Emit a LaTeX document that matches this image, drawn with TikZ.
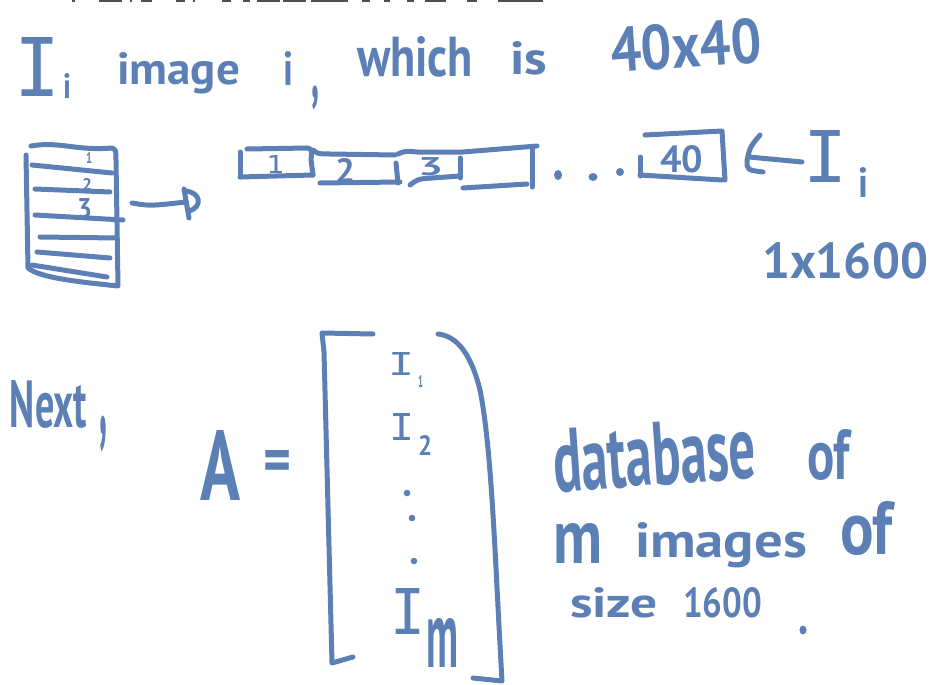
\documentclass[tikz,border=0pt]{standalone}
\usepackage{fontspec}
\usepackage{graphicx}
\usetikzlibrary{fit}
\setmainfont{PT Sans}
\newfontfamily\monof{DejaVu Sans Mono}
\definecolor{hw}{RGB}{92,128,181}
\definecolor{cut}{RGB}{80,80,80}
\newcommand\fitw[3]{\resizebox{#1pt}{#2pt}{#3}}
\begin{document}
\begin{tikzpicture}[x=1pt,y=-1pt,
  ink/.style={draw=hw, line width=5pt, line cap=round, line join=round},
  txt/.style={text=hw, inner sep=0pt, outer sep=0pt, anchor=base west, font=\bfseries},
  bigI/.style={txt, font=\monof\mdseries},
  cutstroke/.style={draw=cut, line width=2.5pt}]
\useasboundingbox (0,0) rectangle (946,685);
% clipped title fragments
\foreach \a/\b in {72/75,99/122,130/132,141/152,176/185,193/195,222/231,243/250,257/280,283/306,311/348,362/370,384/390,407/414,425/446,467/477,498/543}
  \draw[cutstroke] (\a,1) -- (\b,1);
% ---- first line
\node[bigI] (Ibig) at (15,97) {\fitw{46}{59}{I}};
\node[txt] (Isub) at (63,98) {\fitw{8}{25}{i}};
\node[txt] (image) at (117,85) {\fitw{123}{32}{image}};
\node[txt] (iw) at (283,85) {\fitw{10}{34}{i}};
\node[txt, anchor=north west] (comma1) at (311,86) {\resizebox*{8pt}{24pt}{,}};
\node[txt] (which) at (357,77) {\fitw{116}{40}{which}};
\node[txt] (is) at (510,75) {\fitw{37}{33}{is}};
\node[txt, rotate=4] (forty) at (612,73) {\fitw{151}{45}{40x40}};
% ---- grid picture
\draw[ink] (31,146) .. controls (60,141) and (75,151) .. (112,148) .. controls (116,150) .. (116,160) -- (118,286)
  .. controls (80,282) and (40,278) .. (28,268) -- (26,155);
\coordinate (gridR) at (132,203);
\node[inner sep=0pt, fit={(25,145)(118,287)}] (grid) {};
\draw[ink] (32,165) -- (112,173);
\draw[ink] (35,189) -- (110,192);
\draw[ink] (35,215) -- (123,220);
\draw[ink] (40,237) -- (117,238);
\draw[ink] (37,252) -- (110,258);
\draw[ink] (32,265) -- (107,277);
\node[txt] (g1) at (86,163) {\fitw{6}{11}{1}};
\node[txt] (g2) at (82,190) {\fitw{10}{12}{2}};
\node[txt] (g3) at (77,218) {\fitw{15}{20}{3}};
% arrow with D head
\coordinate (Dtip) at (186,202);
\draw[ink] (gridR) .. controls (150,206) .. (Dtip);
\draw[ink] (184,189) -- (189,218);
\draw[ink] (185,191) .. controls (201,192) and (203,207) .. (189,211);
% ---- row of cells
\draw[ink] (240,152) -- (240,177);
\draw[ink] (247,149) -- (308,148) .. controls (312,150) .. (311,160) -- (313,175);
\draw[ink] (240,177) -- (313,175);
\node[bigI] (c1) at (266,173) {\fitw{18}{18}{1}};
\draw[ink] (313,150) .. controls (318,154) .. (330,154) -- (395,155);
\draw[ink] (320,183) -- (400,182);
\draw[ink] (396,163) -- (398,183);
\node[txt] (c2) at (335,182) {\fitw{20}{24}{2}};
\draw[ink] (398,154) .. controls (405,151) .. (417,152) -- (463,152) -- (537,146);
\draw[ink] (410,185) .. controls (418,179) .. (432,178) -- (460,176);
\draw[ink] (460,158) -- (460,178);
\node[txt] (c3) at (418,175) {\fitw{25}{18}{3}};
\draw[ink] (463,188) -- (527,184);
\draw[ink] (532,147) -- (532,187);
\fill[hw] (558,175) ellipse (4 and 5);
\fill[hw] (593,177) ellipse (4.5 and 4);
\fill[hw] (620,172) ellipse (4 and 4);
\draw[ink] (640,157) -- (640,176);
\draw[ink] (645,135) -- (722,131) -- (725,180);
\draw[ink] (640,175) -- (722,180);
\node[txt] (c40) at (660,172) {\fitw{43}{27}{40}};
% ---- arrow from I_i
\node[bigI] (Ir) at (803,182) {\fitw{44}{52}{I}};
\node[txt] (Irsub) at (858,197) {\fitw{10}{30}{i}};
\coordinate (arrS) at (802,162);
\coordinate (arrE) at (749,157);
\draw[ink] (arrS) -- (arrE);
\draw[ink] (760,135) .. controls (750,147) .. (747,160) .. controls (747,170) .. (763,172);
\node[txt] (size1) at (762,278) {\fitw{166}{36}{1x1600}};
% ---- Next, A =
\node[txt] (next) at (10,427) {\fitw{77}{47}{Next}};
\node[txt, anchor=north west] (comma2) at (99,416) {\resizebox*{8pt}{36pt}{,}};
\node[txt] (A) at (200,500) {\fitw{40}{70}{A}};
\node[txt] (eq) at (263,482) {\fitw{28}{32}{=}};
% ---- matrix brackets
\draw[ink] (373,334) -- (322,333) -- (324,352) -- (332,663) -- (353,657);
\draw[ink] (438,334) .. controls (455,336) and (470,350) .. (480,390)
  .. controls (492,450) and (495,560) .. (502,681) -- (473,678);
\node[bigI] (e1) at (388,375) {\fitw{26}{23}{I}};
\node[txt] (e1s) at (418,387) {\fitw{5}{12}{1}};
\node[bigI] (e2) at (389,440) {\fitw{25}{27}{I}};
\node[txt] (e2s) at (418,455) {\fitw{14}{20}{2}};
\fill[hw] (407,493) circle (3.3);
\fill[hw] (412,518) circle (3.3);
\fill[hw] (414,561) circle (3.3);
\node[bigI] (em) at (390,634) {\fitw{35}{46}{I}};
\node[txt] (ems) at (426,667) {\fitw{32}{49}{m}};
% ---- description
\node[txt, rotate=4] (db) at (555,492) {\fitw{203}{63}{database}};
\node[txt] (of1) at (807,479) {\fitw{43}{50}{of}};
\node[txt] (m2) at (553,563) {\fitw{49}{40}{m}};
\node[txt] (images) at (635,557) {\fitw{172}{35}{images}};
\node[txt] (of2) at (840,554) {\fitw{53}{53}{of}};
\node[txt] (size) at (570,617) {\fitw{88}{30}{size}};
\node[txt] (n1600) at (683,617) {\fitw{79}{30}{1600}};
\fill[hw] (803,630) ellipse (3.5 and 4.5);
\end{tikzpicture}
\end{document}
